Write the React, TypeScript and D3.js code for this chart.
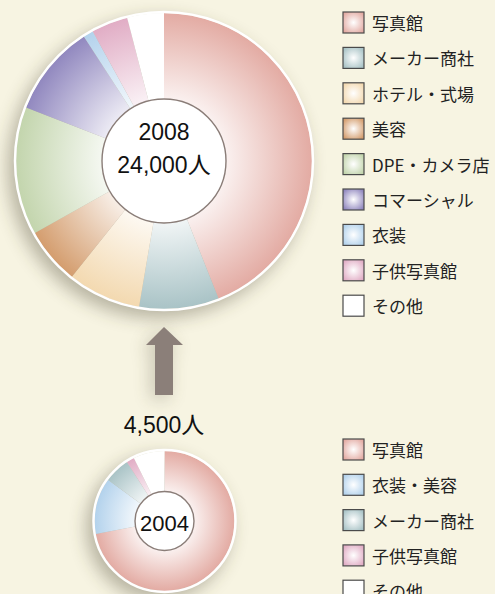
import React from "react";
import * as d3 from "d3";

const cats2008 = ["写真館", "メーカー商社", "ホテル・式場", "美容", "DPE・カメラ店", "コマーシャル", "衣装", "子供写真館", "その他"];
const vals2008 = [44, 8.7, 8, 6.2, 14, 10, 1.1, 4, 4];
const colors2008 = ["#e3aba3", "#a9c3c6", "#f3d9b0", "#d49d6e", "#c3d5ad", "#9188bf", "#b3d2ec", "#e1adc5", "#ffffff"];

const cats2004 = ["写真館", "衣装・美容", "メーカー商社", "子供写真館", "その他"];
const vals2004 = [72, 13, 6, 1.8, 7.2];
const colors2004 = ["#e3aba3", "#b3d2ec", "#a9c3c6", "#e1adc5", "#ffffff"];

const W = 495;
const H = 594;
const numFont = "'Liberation Sans', Arial, 'Noto Sans CJK JP', sans-serif";
const jpFont = "'Noto Sans CJK JP', 'Noto Sans', sans-serif";

type PieProps = {
  id: string;
  cx: number;
  cy: number;
  r: number;
  ir: number;
  values: number[];
  colors: string[];
};

function Pie({ id, cx, cy, r, ir, values, colors }: PieProps) {
  const pie = d3.pie<number>().sort(null).value((d) => d);
  const arcs = pie(values);
  const arc = d3.arc<d3.PieArcDatum<number>>().innerRadius(0).outerRadius(r);
  return (
    <g>
      <defs>
        {colors.map((c, i) => (
          <radialGradient key={i} id={`${id}-g${i}`} gradientUnits="userSpaceOnUse" cx={0} cy={0} r={r}>
            <stop offset="0" stopColor="#ffffff" />
            <stop offset="0.3" stopColor="#ffffff" />
            <stop offset="1" stopColor={c} />
          </radialGradient>
        ))}
      </defs>
      <circle cx={cx - 6} cy={cy + 7} r={r + 2} fill="#3a3520" opacity={0.35} filter="url(#shadow)" />
      <g transform={`translate(${cx},${cy})`}>
        {arcs.map((a, i) => (
          <path key={i} d={arc(a) || ""} fill={`url(#${id}-g${i})`} />
        ))}
        <circle r={r + 1} fill="none" stroke="#ffffff" strokeWidth={2.5} />
        <circle r={ir} fill="#ffffff" stroke="#8a7d78" strokeWidth={1.4} />
      </g>
    </g>
  );
}

type LegendProps = { id: string; x: number; y0: number; step: number; cats: string[]; colors: string[] };

function Legend({ id, x, y0, step, cats, colors }: LegendProps) {
  const size = 21;
  return (
    <g>
      <defs>
        {colors.map((c, i) => (
          <radialGradient key={i} id={`${id}-lg${i}`} cx="0.5" cy="0.5" r="0.6">
            <stop offset="0" stopColor="#ffffff" />
            <stop offset="1" stopColor={c} />
          </radialGradient>
        ))}
      </defs>
      {cats.map((c, i) => {
        const y = y0 + i * step;
        return (
          <g key={i}>
            <rect x={x} y={y} width={size} height={size} fill={`url(#${id}-lg${i})`} stroke="#4a4a4a" strokeWidth={1.2} />
            <text x={x + 29} y={y + size / 2} dominantBaseline="central" fontSize={17} fontFamily={jpFont} fill="#222">
              {c}
            </text>
          </g>
        );
      })}
    </g>
  );
}

export default function App() {
  const arrowX = 164;
  const arrow = d3.path();
  arrow.moveTo(arrowX, 327);
  arrow.lineTo(arrowX + 19, 345);
  arrow.lineTo(arrowX + 9, 345);
  arrow.lineTo(arrowX + 9, 395);
  arrow.lineTo(arrowX - 9, 395);
  arrow.lineTo(arrowX - 9, 345);
  arrow.lineTo(arrowX - 18, 345);
  arrow.closePath();

  return (
    <svg width={W} height={H} style={{ position: "absolute", left: 0, top: 0, display: "block" }}>
      <defs>
        <filter id="shadow" x="-50%" y="-50%" width="200%" height="200%">
          <feGaussianBlur stdDeviation="9" />
        </filter>
      </defs>
      <rect width={W} height={H} fill="#f7f4e2" />

      <Pie id="p08" cx={164} cy={161} r={148} ir={62} values={vals2008} colors={colors2008} />
      <text x={164} y={140} textAnchor="middle" fontSize={23} fontFamily={numFont} fill="#111">2008</text>
      <text x={164} y={173} textAnchor="middle" fontSize={23} fontFamily={numFont} fill="#111">
        24,000<tspan fontFamily={jpFont}>人</tspan>
      </text>

      <path d={arrow.toString()} fill="#3a3520" opacity={0.25} transform="translate(-4,4)" filter="url(#shadow)" />
      <path d={arrow.toString()} fill="#8b7f79" />

      <text x={164} y={433} textAnchor="middle" fontSize={23} fontFamily={numFont} fill="#111">
        4,500<tspan fontFamily={jpFont}>人</tspan>
      </text>

      <Pie id="p04" cx={164.5} cy={521} r={70} ir={29.5} values={vals2004} colors={colors2004} />
      <text x={164.5} y={531} textAnchor="middle" fontSize={22} fontFamily={numFont} fill="#111">2004</text>

      <Legend id="l08" x={343} y0={12} step={35.4} cats={cats2008} colors={colors2008} />
      <Legend id="l04" x={343} y0={439} step={35.3} cats={cats2004} colors={colors2004} />
    </svg>
  );
}
